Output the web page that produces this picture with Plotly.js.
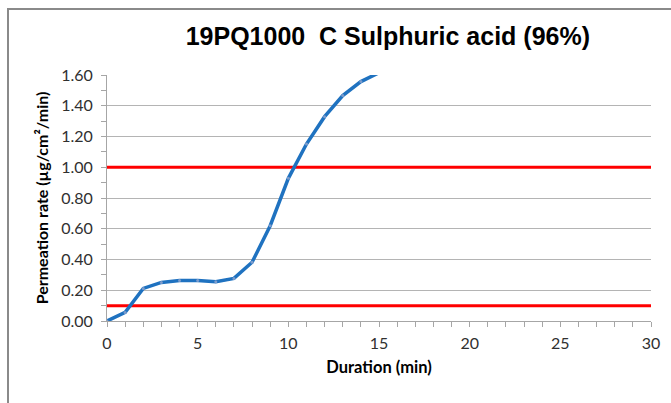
<!DOCTYPE html>
<html>
<head>
<meta charset="utf-8">
<script src="https://cdn.plot.ly/plotly-3.0.1.min.js"></script>
<style>
html,body{margin:0;padding:0;background:#fff;}
#wrap{position:relative;width:671px;height:403px;overflow:hidden;}
#chart{width:671px;height:403px;}
#frame{position:absolute;left:7px;top:8px;width:700px;height:420px;border-top:2px solid #8a8a8a;border-left:2px solid #8a8a8a;pointer-events:none;}
</style>
</head>
<body>
<div id="wrap"><div id="chart"></div><div id="frame"></div></div>
<script>
const durationMin = [0,1,2,3,4,5,6,7,8,9,10,11,12,13,14,15];
const permeationRate = [0,0.056,0.212,0.251,0.264,0.264,0.256,0.277,0.382,0.62,0.928,1.151,1.329,1.466,1.557,1.615];
const limitX = [0,30];
const lowerLimit = [0.1,0.1];
const upperLimit = [1.0,1.0];
const yTickVals = [0,0.2,0.4,0.6,0.8,1.0,1.2,1.4,1.6];
const yTickText = ["0.00","0.20","0.40","0.60","0.80","1.00","1.20","1.40","1.60"];
const xTickVals = [0,5,10,15,20,25,30];

const tickFont = {family:'Lato, "Open Sans", sans-serif', size:16, color:'#303030'};
const traces = [
  {x:limitX, y:lowerLimit, mode:'lines', line:{color:'#ff0000', width:3}, hoverinfo:'skip'},
  {x:limitX, y:upperLimit, mode:'lines', line:{color:'#ff0000', width:3}, hoverinfo:'skip'},
  {x:durationMin, y:permeationRate, mode:'lines+markers', line:{color:'#1f72c0', width:3.5},
   marker:{size:3, color:'#7d9ccc'}}
];
const layout = {
  width:671, height:403,
  margin:{l:107, r:20, t:75, b:82},
  paper_bgcolor:'#ffffff', plot_bgcolor:'#ffffff',
  showlegend:false,
  title:{text:'<b>19PQ1000  C Sulphuric acid (96%)</b>', x:0.578, xanchor:'center', y:0.91, yanchor:'middle',
    font:{family:'"Liberation Sans", Arial, sans-serif', size:25, color:'#000000'}},
  xaxis:{range:[0,30], tickvals:xTickVals, ticktext:xTickVals.map(String), showgrid:false, zeroline:false,
    showline:true, linecolor:'#a6a6a6', linewidth:1, ticks:'outside', ticklen:5, tickcolor:'#a6a6a6',
    minor:{dtick:1, tick0:0, ticks:'outside', ticklen:5, tickcolor:'#a6a6a6', showgrid:false},
    tickfont:tickFont, ticklabelstandoff:3,
    title:{text:'<b>Duration (min)</b>', font:{family:'Lato, "Open Sans", sans-serif', size:16.5, color:'#000'}, standoff:10}},
  yaxis:{range:[0,1.6], tickvals:yTickVals, ticktext:yTickText, showgrid:true, gridcolor:'#b4b4b4', gridwidth:1,
    zeroline:false, showline:true, linecolor:'#a6a6a6', linewidth:1, ticks:'outside', ticklen:5, tickcolor:'#a6a6a6',
    minor:{dtick:0.1, tick0:0, ticks:'outside', ticklen:5, tickcolor:'#a6a6a6', showgrid:false},
    tickfont:tickFont, ticklabelstandoff:5,
    title:{text:'<b>Permeation rate (µg/cm²/min)</b>', font:{family:'Lato, "Open Sans", sans-serif', size:16, color:'#000'}, standoff:8}}
};
Plotly.newPlot('chart', traces, layout, {displayModeBar:false, staticPlot:true});
</script>
</body>
</html>
